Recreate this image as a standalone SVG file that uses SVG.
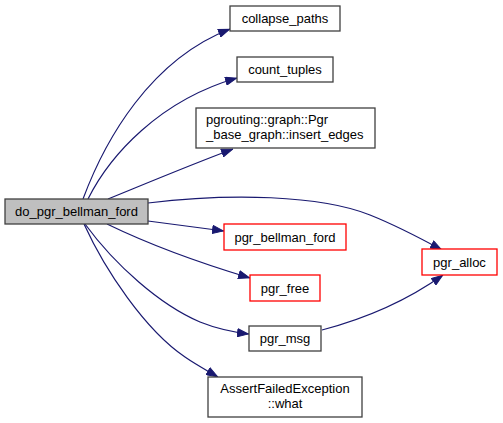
<svg xmlns="http://www.w3.org/2000/svg" width="503" height="423" viewBox="0 0 503 423">
<style>
.n rect{fill:#ffffff;stroke:#404040;stroke-width:1.3}
.n.red rect{stroke:#ff0000}
.n.main rect{fill:#bfbfbf}
.n text{font-family:"Liberation Sans",Arial,sans-serif;font-size:13px;fill:#000000}
.e path{fill:none;stroke:#191970;stroke-width:1.2;marker-end:url(#arr)}
</style>
<defs>
<marker id="arr" viewBox="0 0 12 9" markerWidth="12" markerHeight="9" refX="12" refY="4.5" orient="auto" markerUnits="userSpaceOnUse">
<path d="M0.5,0.5 L11.5,4.5 L0.5,8.5 z" fill="#191970" stroke="#191970" stroke-width="1"/>
</marker>
</defs>
<rect width="503" height="423" fill="#ffffff"/>
<g id="edges" class="e">
<path d="M83,199 C105,140 150,60 230,29"/>
<path d="M88,199 C110,155 160,100 237,78"/>
<path d="M108,199 C140,186 190,165 233,149"/>
<path d="M148,203 C230,193 320,195 370,215 C395,225 420,238 442,250"/>
<path d="M148,221 C170,224 195,227 224,231"/>
<path d="M107,224 C140,240 190,260 250,278"/>
<path d="M85,224 C115,265 160,305 200,322 C215,328 232,332 249,334"/>
<path d="M84,224 C105,270 145,330 185,357 C195,364 206,370 218,377"/>
<path d="M322,330 C360,320 405,302 443,275"/>
</g>
<g id="do_pgr_bellman_ford" class="n main"><rect x="5" y="199" width="143" height="25"/><text x="76.5" y="216" text-anchor="middle">do_pgr_bellman_ford</text></g>
<g id="collapse_paths" class="n"><rect x="230" y="6" width="110" height="25"/><text x="285" y="23" text-anchor="middle">collapse_paths</text></g>
<g id="count_tuples" class="n"><rect x="237" y="57" width="96" height="25"/><text x="285" y="74" text-anchor="middle">count_tuples</text></g>
<g id="insert_edges" class="n"><rect x="196" y="108" width="179" height="40"/><text x="206" y="124">pgrouting::graph::Pgr</text><text x="206" y="139">_base_graph::insert_edges</text></g>
<g id="pgr_bellman_ford" class="n red"><rect x="224" y="224" width="122" height="26"/><text x="285" y="241.5" text-anchor="middle">pgr_bellman_ford</text></g>
<g id="pgr_alloc" class="n red"><rect x="422" y="249" width="75" height="26"/><text x="459.5" y="266.5" text-anchor="middle">pgr_alloc</text></g>
<g id="pgr_free" class="n red"><rect x="250" y="275" width="70" height="26"/><text x="285" y="292.5" text-anchor="middle">pgr_free</text></g>
<g id="pgr_msg" class="n"><rect x="249" y="326" width="72" height="25"/><text x="285" y="343" text-anchor="middle">pgr_msg</text></g>
<g id="assert_what" class="n"><rect x="208" y="377" width="154" height="40"/><text x="285" y="393" text-anchor="middle">AssertFailedException</text><text x="285" y="408" text-anchor="middle">::what</text></g>
</svg>
